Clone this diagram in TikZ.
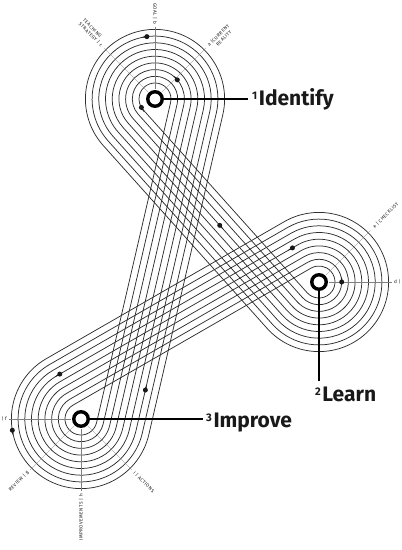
\documentclass[tikz,border=0pt]{standalone}
\usepackage{fontspec}
\setmainfont{Fira Sans}
\newfontfamily\lblfont[LetterSpace=10]{Fira Sans}
\usetikzlibrary{calc,arrows.meta}
\newcommand\supn[1]{{\fontsize{11}{11}\selectfont\raisebox{6.5pt}{#1}}\kern1.6pt}
\newcommand\flowdot[2]{%
  \fill[black!90] (#1) circle[radius=2.5];
  \fill[black!90] ($(#1)+(#2+90:1.2)$) -- ($(#1)+(#2:5.5)$) -- ($(#1)+(#2-90:1.2)$) -- cycle;}
\begin{document}
\begin{tikzpicture}[x=1pt,y=1pt,
  ringline/.style={line width=0.75pt, draw=black!82},
  raylin/.style={line width=0.35pt, draw=black!50},
  conn/.style={line width=1.3pt, draw=black},
  hubmark/.style={circle, draw=black, line width=3.4pt, fill=white, minimum size=14.5pt, inner sep=0pt},
  smalllbl/.style={font=\lblfont\fontsize{4.7}{5.5}\selectfont, text=black!92, inner sep=0pt},
  mainlbl/.style={font=\bfseries\fontsize{21}{21}\selectfont, text=black!90, inner sep=0pt},
]
\useasboundingbox (0,0) rectangle (402,550);
\coordinate (C1) at (155,451);
\coordinate (C2) at (319,268);
\coordinate (C3) at (81,131);
% concentric winding rings
\foreach \k in {0,...,8}{
  \pgfmathsetmacro\r{16+6.7*\k}
  \draw[ringline] ($(C1)+(-13.02:\r)$) arc[start angle=-13.02, end angle=221.863, radius=\r]
    -- ($(C2)+(221.863:\r)$) arc[start angle=221.863, end angle=479.924, radius=\r]
    -- ($(C3)+(119.924:\r)$) arc[start angle=119.924, end angle=346.98, radius=\r]
    -- cycle;
}
% radial guide lines
\foreach \a in {90,45,135}{\draw[raylin] ($(C1)+(\a:10)$) -- ($(C1)+(\a:72)$);}
\foreach \a in {0,45}{\draw[raylin] ($(C2)+(\a:10)$) -- ($(C2)+(\a:73)$);}
\foreach \a in {180,225,270,315}{\draw[raylin] ($(C3)+(\a:10)$) -- ($(C3)+(\a:72)$);}
% small labels
\node[smalllbl, rotate=-90, anchor=east] (goal) at ($(C1)+(90:75)$) {GOAL | b};
\node[smalllbl, rotate=45, anchor=west] (alab) at ($(C1)+(45:75)$) {a |\ };
\node[smalllbl, rotate=45, anchor=west] (cur) at (alab.east) {CURRENT};
\node[smalllbl, rotate=45, anchor=west] (real) at ($(cur.west)+(-45:5.8)$) {REALITY};
\node[smalllbl, rotate=-45, anchor=east] (strat) at ($(C1)+(135:75)$) {STRATEGY | c};
\node[smalllbl, rotate=-45, anchor=west] (teach) at ($(strat.west)+(45:5.8)$) {TEACHING};
\node[smalllbl, rotate=45, anchor=west] (chk) at ($(C2)+(45:77)$) {e | CHECKLIST};
\node[smalllbl, anchor=west] (dl) at ($(C2)+(0:75)$) {d |};
\node[smalllbl, anchor=east] (fl) at ($(C3)+(180:74)$) {| f};
\node[smalllbl, rotate=45, anchor=east] (rev) at ($(C3)+(225:75)$) {REVIEW | g};
\node[smalllbl, rotate=90, anchor=east] (imp) at ($(C3)+(270:75)$) {IMPROVEMENTS | h};
\node[smalllbl, rotate=-45, anchor=west] (act) at ($(C3)+(-45:75)$) {i | ACTIONS};
% hubs and main labels
\node[hubmark] (m1) at (C1) {};
\node[hubmark] (m2) at (C2) {};
\node[hubmark] (m3) at (C3) {};
\coordinate (e1) at (248,451);
\coordinate (e2) at (319,169);
\coordinate (e3) at (203,131);
\draw[conn] (m1) -- (e1);
\draw[conn] (m2) -- (e2);
\draw[conn] (m3) -- (e3);
\node[mainlbl, anchor=base west] (l1) at (252,444) {\supn{1}Identify};
\node[mainlbl, anchor=base west] (l2) at (315,148) {\supn{2}Learn};
\node[mainlbl, anchor=base west] (l3) at (206,122) {\supn{3}Improve};
% flow dots
\coordinate (d1) at ($(C1)+(97.4:62.9)$);
\coordinate (d2) at ($(C1)+(40.6:29.4)$);
\coordinate (d3) at ($(C1)+(211.8:16)$);
\coordinate (d4) at ($(C1)+(-138.14:36.1)+(-48.14:137.3)$);
\coordinate (d5) at ($(C2)+(119.92:42.8)+(-150.08:6)$);
\coordinate (d6) at ($(C2)+(0:22.7)$);
\coordinate (d7) at ($(C3)+(119.92:49.5)+(29.92:4)$);
\coordinate (d8) at ($(C3)+(189.3:69.6)$);
\coordinate (d9) at ($(C3)+(-13.02:56.2)+(76.98:42.7)$);
\flowdot{d1}{187.4}
\flowdot{d2}{130.6}
\flowdot{d3}{301.8}
\flowdot{d4}{-48.14}
\flowdot{d5}{-150.08}
\flowdot{d6}{90}
\flowdot{d7}{-150.08}
\flowdot{d8}{279.3}
\flowdot{d9}{76.98}
\end{tikzpicture}
\end{document}
